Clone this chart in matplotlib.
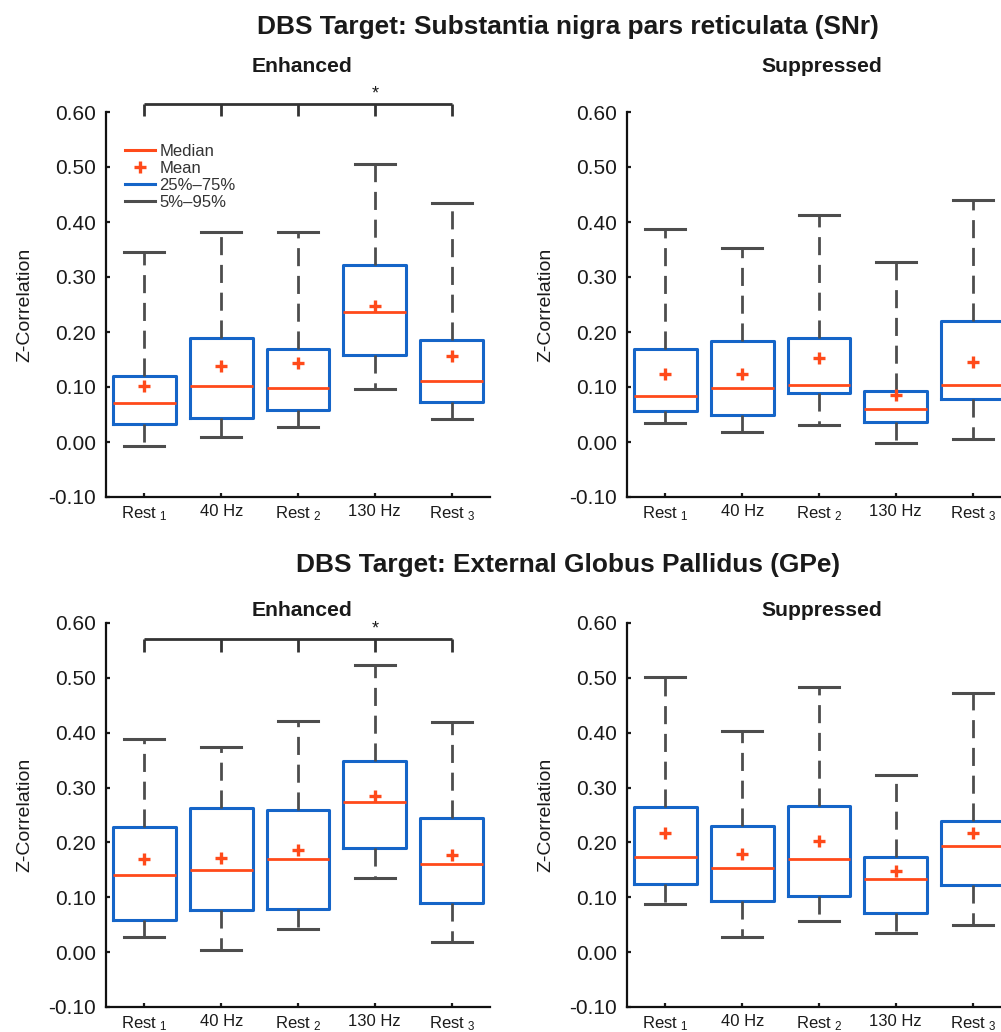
import matplotlib
matplotlib.use("Agg")
import matplotlib.pyplot as plt
from matplotlib.lines import Line2D

plt.rcParams['font.family'] = ['Liberation Sans', 'DejaVu Sans']
plt.rcParams['mathtext.fontset'] = 'custom'
plt.rcParams['mathtext.rm'] = 'Liberation Sans'
plt.rcParams['mathtext.it'] = 'Liberation Sans'

# ---------------- data ----------------
categories = [r'Rest$\;_{1}$', '40 Hz', r'Rest$\;_{2}$', '130 Hz', r'Rest$\;_{3}$']
ytick_values = [-0.10, 0.00, 0.10, 0.20, 0.30, 0.40, 0.50, 0.60]
ytick_labels = ['-0.10', '0.00', '0.10', '0.20', '0.30', '0.40', '0.50', '0.60']

# SNr - Enhanced
snr_enh_p5 = [-0.007, 0.010, 0.028, 0.096, 0.041]
snr_enh_q1 = [0.032, 0.044, 0.058, 0.159, 0.072]
snr_enh_med = [0.0715, 0.102, 0.099, 0.236, 0.111]
snr_enh_mean = [0.102, 0.138, 0.144, 0.248, 0.156]
snr_enh_q3 = [0.120, 0.190, 0.170, 0.321, 0.185]
snr_enh_p95 = [0.345, 0.382, 0.381, 0.505, 0.434]

# SNr - Suppressed
snr_sup_p5 = [0.035, 0.019, 0.031, -0.001, 0.005]
snr_sup_q1 = [0.057, 0.049, 0.0885, 0.037, 0.078]
snr_sup_med = [0.084, 0.098, 0.104, 0.060, 0.104]
snr_sup_mean = [0.124, 0.124, 0.152, 0.085, 0.146]
snr_sup_q3 = [0.170, 0.184, 0.190, 0.093, 0.220]
snr_sup_p95 = [0.387, 0.352, 0.413, 0.328, 0.440]

# GPe - Enhanced
gpe_enh_p5 = [0.028, 0.004, 0.043, 0.136, 0.018]
gpe_enh_q1 = [0.0585, 0.077, 0.078, 0.189, 0.089]
gpe_enh_med = [0.140, 0.150, 0.169, 0.274, 0.160]
gpe_enh_mean = [0.169, 0.172, 0.186, 0.285, 0.177]
gpe_enh_q3 = [0.228, 0.263, 0.259, 0.348, 0.245]
gpe_enh_p95 = [0.388, 0.374, 0.421, 0.523, 0.419]

# GPe - Suppressed
gpe_sup_p5 = [0.088, 0.028, 0.057, 0.034, 0.049]
gpe_sup_q1 = [0.124, 0.093, 0.102, 0.071, 0.122]
gpe_sup_med = [0.173, 0.153, 0.170, 0.134, 0.193]
gpe_sup_mean = [0.2165, 0.178, 0.203, 0.148, 0.2165]
gpe_sup_q3 = [0.265, 0.230, 0.266, 0.173, 0.239]
gpe_sup_p95 = [0.502, 0.404, 0.483, 0.323, 0.472]

# significance brackets (Rest1 .. Rest3, star over 130 Hz)
snr_bracket_y = 0.615
gpe_bracket_y = 0.570
sig_star_index = 3

titles = ['DBS Target: Substantia nigra pars reticulata (SNr)',
          'DBS Target: External Globus Pallidus (GPe)']
subtitles = ['Enhanced', 'Suppressed']
legend_labels = ['Median', 'Mean', '25%\u201375%', '5%\u201395%']

# ---------------- style ----------------
BLUE = '#1565C8'
ORANGE = '#FF4A1A'
GRAY = '#4D4D4D'
TXT = '#1A1A1A'

W, H = 1001, 1032
fig = plt.figure(figsize=(W / 100, H / 100), dpi=100)


def px_axes(x0, ytop, x1, ybot):
    return fig.add_axes([x0 / W, 1 - ybot / H, (x1 - x0) / W, (ybot - ytop) / H])


def draw_panel(ax, p5, q1, med, mean, q3, p95, bracket_y=None):
    stats = []
    for i in range(len(categories)):
        stats.append(dict(whislo=p5[i], q1=q1[i], med=med[i], mean=mean[i],
                          q3=q3[i], whishi=p95[i], fliers=[]))
    pos = list(range(1, len(categories) + 1))
    ax.bxp(stats, positions=pos, widths=0.82, capwidths=0.52,
           showmeans=True, showfliers=False, patch_artist=False,
           boxprops=dict(color=BLUE, linewidth=2.2),
           medianprops=dict(color=ORANGE, linewidth=2.0),
           meanprops=dict(marker='+', markeredgecolor=ORANGE, markersize=9,
                          markeredgewidth=2.4, linestyle='none'),
           whiskerprops=dict(color=GRAY, linewidth=2.0, linestyle=(0, (6.5, 3.5))),
           capprops=dict(color=GRAY, linewidth=2.2))
    ax.set_xlim(0.5, 5.5)
    ax.set_ylim(-0.10, 0.60)
    ax.set_yticks(ytick_values)
    ax.set_yticklabels(ytick_labels)
    ax.set_xticks(pos)
    ax.set_xticklabels(categories)
    for s in ['top', 'right']:
        ax.spines[s].set_visible(False)
    for s in ['left', 'bottom']:
        ax.spines[s].set_linewidth(1.6)
        ax.spines[s].set_color('#111111')
    ax.tick_params(axis='y', direction='in', length=3, width=1.6,
                   labelsize=15, pad=7, colors=TXT)
    ax.tick_params(axis='x', direction='in', length=3, width=1.6,
                   labelsize=12, pad=5, colors=TXT)
    ax.set_ylabel('Z-Correlation', fontsize=14, color=TXT, labelpad=11)
    if bracket_y is not None:
        drop = 0.022
        ax.plot([pos[0], pos[-1]], [bracket_y, bracket_y], color='#333333',
                lw=2.0, clip_on=False, solid_capstyle='butt')
        for p in pos:
            ax.plot([p, p], [bracket_y, bracket_y - drop], color='#333333',
                    lw=2.0, clip_on=False, solid_capstyle='butt')
        ax.text(pos[sig_star_index], bracket_y + 0.003, '*', ha='center',
                va='bottom', fontsize=13, color=TXT, clip_on=False)


ax1 = px_axes(106, 112, 490, 497)
ax2 = px_axes(627, 112, 1011, 497)
ax3 = px_axes(106, 623, 490, 1007)
ax4 = px_axes(627, 623, 1011, 1007)

draw_panel(ax1, snr_enh_p5, snr_enh_q1, snr_enh_med, snr_enh_mean, snr_enh_q3,
           snr_enh_p95, snr_bracket_y)
draw_panel(ax2, snr_sup_p5, snr_sup_q1, snr_sup_med, snr_sup_mean, snr_sup_q3,
           snr_sup_p95)
draw_panel(ax3, gpe_enh_p5, gpe_enh_q1, gpe_enh_med, gpe_enh_mean, gpe_enh_q3,
           gpe_enh_p95, gpe_bracket_y)
draw_panel(ax4, gpe_sup_p5, gpe_sup_q1, gpe_sup_med, gpe_sup_mean, gpe_sup_q3,
           gpe_sup_p95)

# legend
handles = [Line2D([], [], color=ORANGE, lw=2.2),
           Line2D([], [], color=ORANGE, marker='+', linestyle='none',
                  markersize=9, markeredgewidth=2.4),
           Line2D([], [], color=BLUE, lw=2.2),
           Line2D([], [], color=GRAY, lw=2.2)]
ax1.legend(handles, legend_labels, loc='upper left',
           bbox_to_anchor=(0.05, 0.918), frameon=False, fontsize=12,
           handlelength=1.8, handletextpad=0.25, labelspacing=0.12,
           borderpad=0, borderaxespad=0, labelcolor='#333333')

# titles
fig.text(568 / W, 1 - 27 / H, titles[0], ha='center', va='center',
         fontsize=18.9, fontweight='bold', color=TXT)
fig.text(568 / W, 1 - 565 / H, titles[1], ha='center', va='center',
         fontsize=18.9, fontweight='bold', color=TXT)
fig.text(302 / W, 1 - 67 / H, subtitles[0], ha='center', va='center',
         fontsize=15.2, fontweight='bold', color=TXT)
fig.text(822 / W, 1 - 67 / H, subtitles[1], ha='center', va='center',
         fontsize=15.2, fontweight='bold', color=TXT)
fig.text(302 / W, 1 - 611 / H, subtitles[0], ha='center', va='center',
         fontsize=15.2, fontweight='bold', color=TXT)
fig.text(822 / W, 1 - 611 / H, subtitles[1], ha='center', va='center',
         fontsize=15.2, fontweight='bold', color=TXT)

fig.savefig('out.png', dpi=100)
